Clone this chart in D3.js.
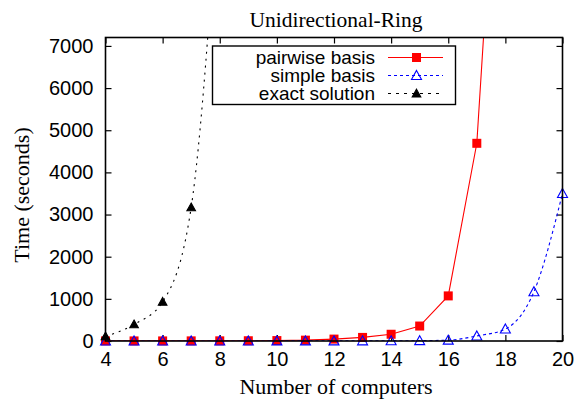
<!DOCTYPE html>
<html><head><meta charset="utf-8">
<script src="https://cdn.jsdelivr.net/npm/d3@7"></script>
<style>body{margin:0;background:#fff}svg{display:block}</style>
</head><body>
<svg id="c" width="577" height="403"></svg>
<script>
const title = "Unidirectional-Ring";
const xLabel = "Number of computers";
const yLabel = "Time (seconds)";
const xTicks = [4,6,8,10,12,14,16,18,20];
const yTicks = [0,1000,2000,3000,4000,5000,6000,7000];
const pairwiseX = [4,5,6,7,8,9,10,11,12,13,14,15,16,17,18];
const pairwiseY = [2,2,2,3,4,6,10,20,45,85,160,355,1070,4690,15400];
const simpleX = [4,5,6,7,8,9,10,11,12,13,14,15,16,17,18,19,20];
const simpleY = [1,1,1,1,1,1,2,2,3,4,5,8,20,120,285,1170,3500];
const exactX = [4,5,6,7,8];
const exactY = [110,395,930,3170,11200];

const svg = d3.select("#c");
const L=105.5, R=562.5, T=37.5, B=341;
const x = d3.scaleLinear().domain([4,20]).range([L,R]);
const y = d3.scaleLinear().domain([0,7200]).range([B,T]);
const sans = "'Liberation Sans', Arial, sans-serif";
const serif = "'Liberation Serif', 'Times New Roman', serif";

svg.append("defs").append("clipPath").attr("id","clip")
  .append("rect").attr("x",L).attr("y",T).attr("width",R-L).attr("height",B-T);

// title & labels
svg.append("text").attr("x",336).attr("y",27).attr("text-anchor","middle")
  .style("font-family",serif).style("font-size","21.5px").text(title);
svg.append("text").attr("x",336).attr("y",394).attr("text-anchor","middle")
  .style("font-family",serif).style("font-size","22px").text(xLabel);
svg.append("text").attr("transform","translate(29,195) rotate(-90)").attr("text-anchor","middle")
  .style("font-family",serif).style("font-size","22px").text(yLabel);

// axes
const gx = svg.append("g").attr("transform",`translate(0,${B})`)
  .call(d3.axisBottom(x).tickValues(xTicks).tickSize(-6).tickPadding(11).tickFormat(d3.format("d")));
const gxt = svg.append("g").attr("transform",`translate(0,${T})`)
  .call(d3.axisTop(x).tickValues(xTicks).tickSize(-6).tickFormat(""));
const gy = svg.append("g").attr("transform",`translate(${L},0)`)
  .call(d3.axisLeft(y).tickValues(yTicks).tickSize(-6).tickPadding(12).tickFormat(d3.format("d")));
const gyr = svg.append("g").attr("transform",`translate(${R},0)`)
  .call(d3.axisRight(y).tickValues(yTicks).tickSize(-6).tickFormat(""));
[gx,gxt,gy,gyr].forEach(g=>{
  g.select(".domain").remove();
  g.selectAll(".tick line").attr("stroke","#000").attr("stroke-width",1.2);
  g.selectAll("text").style("font-family",sans).style("font-size","20px").attr("fill","#000");
});
gx.selectAll("text").attr("dy","0.71em");

const plot = svg.append("g").attr("clip-path","url(#clip)");

function series(xs, ys, color, dash, curve){
  const pts = xs.map((d,i)=>[d,ys[i]]);
  plot.append("path").datum(pts)
    .attr("d", d3.line().x(d=>x(d[0])).y(d=>y(d[1])).curve(curve))
    .attr("fill","none").attr("stroke",color).attr("stroke-width",1.1)
    .attr("stroke-dasharray",dash);
  return pts;
}
const pw = series(pairwiseX,pairwiseY,"#ff0000",null,d3.curveLinear);
const sp = series(simpleX,simpleY,"#0000ff","3,3",d3.curveMonotoneX);
const ex = series(exactX,exactY,"#000","2,5",d3.curveMonotoneX);

const markers = svg.append("g").attr("clip-path","url(#clip2)");
svg.select("defs").append("clipPath").attr("id","clip2")
  .append("rect").attr("x",L-8).attr("y",T).attr("width",R-L+16).attr("height",B-T+8);

function square(g,cx,cy){ g.append("rect").attr("x",cx-4.5).attr("y",cy-4.5).attr("width",9).attr("height",9).attr("fill","#ff0000"); }
function tri(g,cx,cy,fill,stroke,s){
  g.append("path").attr("d",`M${cx},${cy-s}L${cx+s},${cy+s*0.8}L${cx-s},${cy+s*0.8}Z`)
   .attr("fill",fill).attr("stroke",stroke).attr("stroke-width",1.1);
}
pw.forEach(d=>{ if(d[1]<=7200) square(markers,x(d[0]),y(d[1])); });
sp.forEach(d=>{ if(d[1]<=7200) tri(markers,x(d[0]),y(d[1]),"none","#0000ff",5); });
ex.forEach(d=>{ if(d[1]<=7200) tri(markers,x(d[0]),y(d[1]),"#000","#000",4.3); });

// frame
svg.append("rect").attr("x",L).attr("y",T).attr("width",R-L).attr("height",B-T)
  .attr("fill","none").attr("stroke","#000").attr("stroke-width",1.6);

// legend
const lg = svg.append("g");
lg.append("rect").attr("x",212.5).attr("y",46).attr("width",243).attr("height",58.5)
  .attr("fill","#fff").attr("stroke","#000").attr("stroke-width",1.4);
const leg = [
  {name:"pairwise basis", color:"#ff0000", dash:null, m:"sq"},
  {name:"simple basis", color:"#0000ff", dash:"3,3", m:"open"},
  {name:"exact solution", color:"#000", dash:"3,5", m:"fill"}
];
leg.forEach((d,i)=>{
  const cy = 57.5 + i*18;
  lg.append("text").attr("x",375).attr("y",cy).attr("dy","0.36em").attr("text-anchor","end")
    .style("font-family",sans).style("font-size","19px").text(d.name);
  lg.append("line").attr("x1",388).attr("x2",443).attr("y1",cy).attr("y2",cy)
    .attr("stroke",d.color).attr("stroke-width",1.1).attr("stroke-dasharray",d.dash);
  if(d.m==="sq") square(lg,416.5,cy);
  else if(d.m==="open") tri(lg,416.5,cy,"none","#0000ff",5);
  else tri(lg,416.5,cy,"#000","#000",4.3);
});
</script>
</body></html>
